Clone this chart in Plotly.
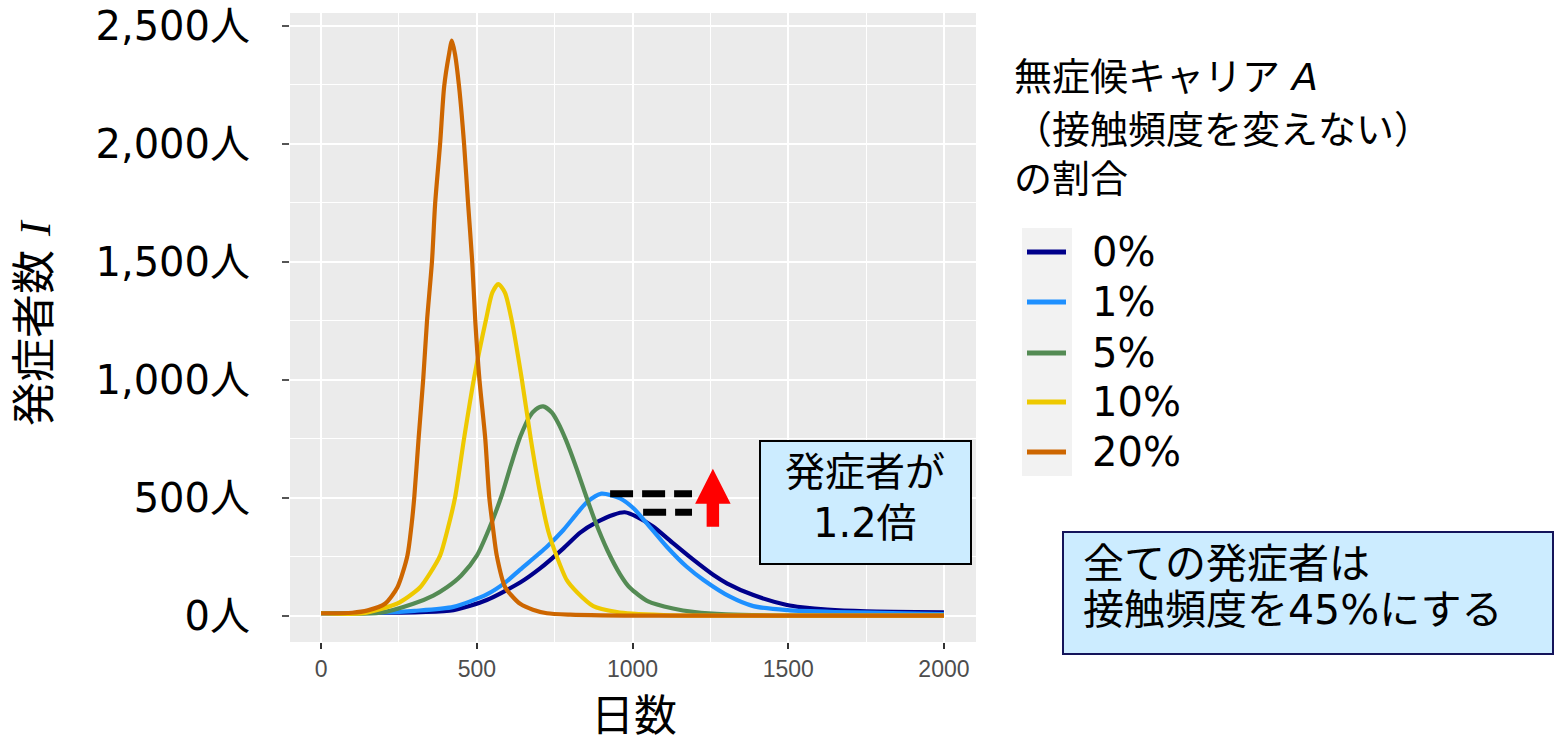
import plotly.graph_objects as go

# ---------------- data ----------------
series_labels = ["0%", "1%", "5%", "10%", "20%"]
series_colors = ["#00008B", "#1E90FF", "#548B54", "#EEC900", "#CD6600"]

days_0 = [0, 200, 318, 425, 532, 639, 703, 778, 832, 885, 939, 975, 1014, 1067, 1131, 1196, 1260, 1303, 1388, 1496, 1545, 1625, 1750, 2000]
vals_0 = [10, 12, 15, 23, 66, 140, 200, 285, 352, 396, 428, 438, 419, 377, 306, 236, 172, 137, 87, 45, 35, 25, 18, 14]

days_1 = [0, 200, 300, 425, 532, 591, 639, 725, 778, 821, 853, 900, 960, 1003, 1046, 1110, 1174, 1228, 1313, 1388, 1496, 1650, 1870, 2000]
vals_1 = [10, 13, 20, 37, 90, 140, 195, 292, 363, 432, 480, 517, 497, 455, 391, 292, 207, 151, 80, 40, 23, 15, 10, 6]

days_5 = [0, 190, 296, 360, 404, 450, 500, 540, 580, 610, 640, 670, 690, 713, 740, 760, 786, 820, 850, 880, 920, 960, 990, 1050, 1130, 1200, 1300, 1450, 2000]
vals_5 = [10, 12, 50, 85, 120, 170, 254, 370, 510, 640, 760, 845, 875, 887, 862, 820, 745, 625, 510, 400, 275, 175, 120, 60, 30, 15, 5, 0, 0]

days_10 = [0, 135, 243, 280, 318, 350, 382, 405, 430, 459, 491, 529, 550, 569, 590, 612, 644, 673, 703, 729, 757, 789, 821, 874, 950, 1000, 1100, 1200, 2000]
vals_10 = [10, 10, 50, 80, 120, 180, 254, 360, 500, 751, 1006, 1252, 1370, 1405, 1370, 1252, 1006, 751, 520, 360, 250, 150, 100, 40, 15, 8, 2, 0, 0]

days_20 = [0, 100, 150, 205, 245, 277, 290, 299, 313, 328, 340, 356, 366, 382, 395, 410, 420, 430, 443, 459, 472, 485, 495, 508, 527, 540, 552, 564, 591, 615, 639, 680, 725, 800, 900, 1000, 2000]
vals_20 = [10, 12, 22, 50, 120, 254, 380, 500, 751, 1006, 1250, 1503, 1745, 2000, 2242, 2375, 2438, 2380, 2242, 2000, 1745, 1503, 1250, 1006, 751, 500, 370, 254, 120, 80, 50, 25, 10, 4, 1, 0, 0]

x_ticks = [0, 500, 1000, 1500, 2000]
y_ticks = [0, 500, 1000, 1500, 2000, 2500]
y_tick_labels = ["0人", "500人", "1,000人", "1,500人", "2,000人", "2,500人"]

# reference levels for the dashed comparison lines (peaks of 1% and 0%)
peak_1 = 517
peak_0 = 438

all_days = [days_0, days_1, days_5, days_10, days_20]
all_vals = [vals_0, vals_1, vals_5, vals_10, vals_20]

# ---------------- layout geometry ----------------
W, H = 1558, 745
L, R, T, B = 290, 976, 13, 642   # plot area in px


def px(x):
    return (x - L) / (R - L)


def py(y):
    return (B - y) / (B - T)


JP = "DejaVu Sans, Noto Sans CJK JP, sans-serif"

fig = go.Figure()
for d, v, name, col in zip(all_days, all_vals, series_labels, series_colors):
    fig.add_trace(go.Scatter(x=d, y=v, mode="lines", name=name,
                             line=dict(color=col, width=4.2, shape="spline", smoothing=0.7),
                             showlegend=False, hoverinfo="x+y+name"))

shapes = []
annotations = []

# dashed comparison lines (data coords)
shapes.append(dict(type="line", xref="x", yref="y", x0=928, x1=1191, y0=peak_1, y1=peak_1,
                   line=dict(color="black", width=7, dash="23px,9px")))
shapes.append(dict(type="line", xref="x", yref="y", x0=1034, x1=1191, y0=peak_0, y1=peak_0,
                   line=dict(color="black", width=7, dash="23px,9px")))

# red arrow (data coords)
ax_c, shaft_hw, head_hw = 1258, 20, 57
y_bot, y_base, y_tip = 377, 474, 623
arrow_path = (f"M {ax_c - shaft_hw},{y_bot} L {ax_c - shaft_hw},{y_base} L {ax_c - head_hw},{y_base} "
              f"L {ax_c},{y_tip} L {ax_c + head_hw},{y_base} L {ax_c + shaft_hw},{y_base} "
              f"L {ax_c + shaft_hw},{y_bot} Z")
shapes.append(dict(type="path", xref="x", yref="y", path=arrow_path,
                   fillcolor="#FF0000", line=dict(width=0)))

# box 1
shapes.append(dict(type="rect", xref="paper", yref="paper", x0=px(760), x1=px(971), y0=py(564), y1=py(441),
                   fillcolor="#CCECFF", line=dict(color="black", width=2), layer="above"))
annotations.append(dict(text="発症者が", x=px(865), y=py(472), xref="paper", yref="paper",
                        xanchor="center", yanchor="middle", showarrow=False,
                        font=dict(family=JP, size=40, color="black")))
annotations.append(dict(text="1.2倍", x=px(865), y=py(523), xref="paper", yref="paper",
                        xanchor="center", yanchor="middle", showarrow=False,
                        font=dict(family=JP, size=40, color="black")))

# box 2
shapes.append(dict(type="rect", xref="paper", yref="paper", x0=px(1063), x1=px(1553), y0=py(654), y1=py(532),
                   fillcolor="#CCECFF", line=dict(color="#14145A", width=2), layer="above"))
annotations.append(dict(text="全ての発症者は", x=px(1081), y=py(564), xref="paper", yref="paper",
                        xanchor="left", yanchor="middle", showarrow=False,
                        font=dict(family=JP, size=41, color="black")))
annotations.append(dict(text="接触頻度を45%にする", x=px(1081), y=py(610), xref="paper", yref="paper",
                        xanchor="left", yanchor="middle", showarrow=False,
                        font=dict(family=JP, size=41, color="black")))

# legend (manual, ggplot style)
title_lines = ["無症候キャリア <i>A</i>", "（接触頻度を変えない）", "の割合"]
title_y = [77, 130, 179]
for t, yy in zip(title_lines, title_y):
    annotations.append(dict(text=t, x=px(1012), y=py(yy), xref="paper", yref="paper",
                            xanchor="left", yanchor="middle", showarrow=False,
                            font=dict(family=JP, size=38, color="black")))
shapes.append(dict(type="rect", xref="paper", yref="paper", x0=px(1022), x1=px(1072), y0=py(476), y1=py(228),
                   fillcolor="#F2F2F2", line=dict(width=0)))
key_y = [252, 302, 353, 402, 452]
for name, col, yy in zip(series_labels, series_colors, key_y):
    shapes.append(dict(type="line", xref="paper", yref="paper", x0=px(1027), x1=px(1066),
                       y0=py(yy), y1=py(yy), line=dict(color=col, width=5)))
    annotations.append(dict(text=name, x=px(1090), y=py(yy), xref="paper", yref="paper",
                            xanchor="left", yanchor="middle", showarrow=False,
                            font=dict(family=JP, size=40, color="black")))

# axis titles
annotations.append(dict(text="日数", x=px(634), y=py(716), xref="paper", yref="paper",
                        xanchor="center", yanchor="middle", showarrow=False,
                        font=dict(family=JP, size=43, color="black")))
annotations.append(dict(text='発症者数 <span style="font-family:Liberation Serif"><i>I</i></span>',
                        x=px(34), y=py(323), xref="paper", yref="paper", textangle=-90,
                        xanchor="center", yanchor="middle", showarrow=False,
                        font=dict(family=JP, size=44, color="black")))

fig.update_layout(
    width=W, height=H,
    margin=dict(l=L, r=W - R, t=T, b=H - B, pad=0, autoexpand=False),
    paper_bgcolor="white", plot_bgcolor="#EBEBEB",
    shapes=shapes, annotations=annotations,
    showlegend=False,
    xaxis=dict(range=[-100, 2103], tickvals=x_ticks, ticktext=[str(v) for v in x_ticks],
               automargin=False,
               showgrid=True, gridcolor="white", gridwidth=2.2, zeroline=False,
               minor=dict(dtick=250, tick0=0, showgrid=True, gridcolor="white", gridwidth=1.2),
               ticks="outside", ticklen=6, tickwidth=2, tickcolor="#333333",
               tickfont=dict(family="Liberation Sans, Arial", size=23, color="#4D4D4D"),
               showline=False),
    yaxis=dict(range=[-112, 2555], tickvals=y_ticks, ticktext=y_tick_labels,
               automargin=False,
               showgrid=True, gridcolor="white", gridwidth=2.2, zeroline=False,
               minor=dict(dtick=250, tick0=0, showgrid=True, gridcolor="white", gridwidth=1.2),
               ticks="outside", ticklen=7, tickwidth=2, tickcolor="#555555",
               ticklabelstandoff=24,
               tickfont=dict(family=JP, size=40, color="black"),
               showline=False),
)

fig.write_html("out.html", config={"displayModeBar": False},
               post_script="document.body.style.margin='0';document.body.style.overflow='hidden';")
